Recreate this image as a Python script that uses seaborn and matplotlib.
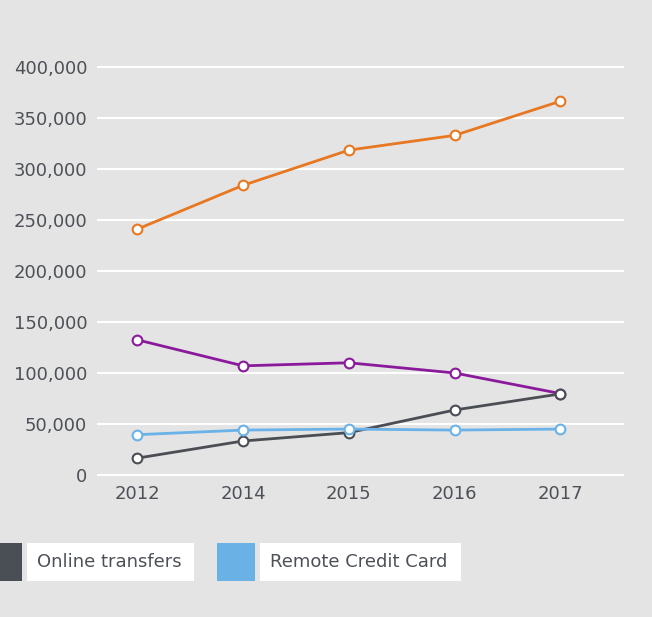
import matplotlib
matplotlib.use("Agg")
import matplotlib.pyplot as plt
import matplotlib.ticker as mticker
from matplotlib.patches import Rectangle
import seaborn as sns

# ---------------------------
# DATA
# ---------------------------
years = ["2012", "2014", "2015", "2016", "2017"]

series_names = ["Series 1", "Series 2", "Online transfers", "Remote Credit Card"]
series_1 = [241000, 284000, 318500, 333000, 366500]
series_2 = [132500, 107000, 110000, 100000, 79800]
online_transfers = [16500, 33300, 41500, 63700, 79500]
remote_credit_card = [39500, 44000, 45000, 44000, 45000]

colors = ["#e87722", "#8a1a9b", "#4a4d53", "#6ab2e7"]
legend_names = ["Online transfers", "Remote Credit Card"]
legend_colors = ["#4a4f55", "#6ab2e5"]

BG = "#e4e4e4"
TXT = "#4d5157"

# ---------------------------
# FIGURE
# ---------------------------
sns.set_style("white")
plt.rcParams["font.family"] = ["DejaVu Sans"]

fig = plt.figure(figsize=(6.52, 6.17), dpi=100, facecolor=BG)
ax = fig.add_axes([0.1488, 0.2269, 0.8082, 0.6678])
ax.set_facecolor(BG)

all_series = [series_1, series_2, online_transfers, remote_credit_card]
for name, vals, col in zip(series_names, all_series, colors):
    sns.lineplot(x=years, y=vals, ax=ax, color=col, linewidth=2.0,
                 marker="o", markersize=7, markerfacecolor="white",
                 markeredgecolor=col, markeredgewidth=1.5, sort=False,
                 zorder=3, clip_on=False)

ax.set_xlim(-0.38, 4.6)
ax.set_ylim(-2000, 402000)
ax.set_yticks(range(0, 400001, 50000))
ax.yaxis.set_major_formatter(mticker.FuncFormatter(lambda v, p: f"{int(v):,}"))

ax.grid(axis="y", color="white", linewidth=1.5, zorder=0)
ax.grid(axis="x", visible=False)
ax.set_axisbelow(True)
for s in ax.spines.values():
    s.set_visible(False)
ax.tick_params(axis="both", length=0, labelsize=13, colors=TXT)
ax.tick_params(axis="y", pad=7)
ax.tick_params(axis="x", pad=6)
ax.set_xlabel("")
ax.set_ylabel("")

# ---------------------------
# LEGEND (bottom, partly cut off)
# ---------------------------
W, H = 652.0, 617.0
box_y0, box_h = (617 - 581) / H, 38 / H
swatches = [(-16, 22), (217, 255)]
label_boxes = [(27, 194), (260, 461)]
for (sx0, sx1), (lx0, lx1), name, col in zip(swatches, label_boxes, legend_names, legend_colors):
    fig.patches.append(Rectangle((sx0 / W, box_y0), (sx1 - sx0) / W, box_h,
                                 transform=fig.transFigure, facecolor=col, edgecolor="none"))
    fig.patches.append(Rectangle((lx0 / W, box_y0), (lx1 - lx0) / W, box_h,
                                 transform=fig.transFigure, facecolor="white", edgecolor="none"))
    fig.text((lx0 + 10) / W, box_y0 + box_h / 2, name, ha="left", va="center",
             fontsize=13, color=TXT)

fig.savefig("out.png", dpi=100, facecolor=BG)
